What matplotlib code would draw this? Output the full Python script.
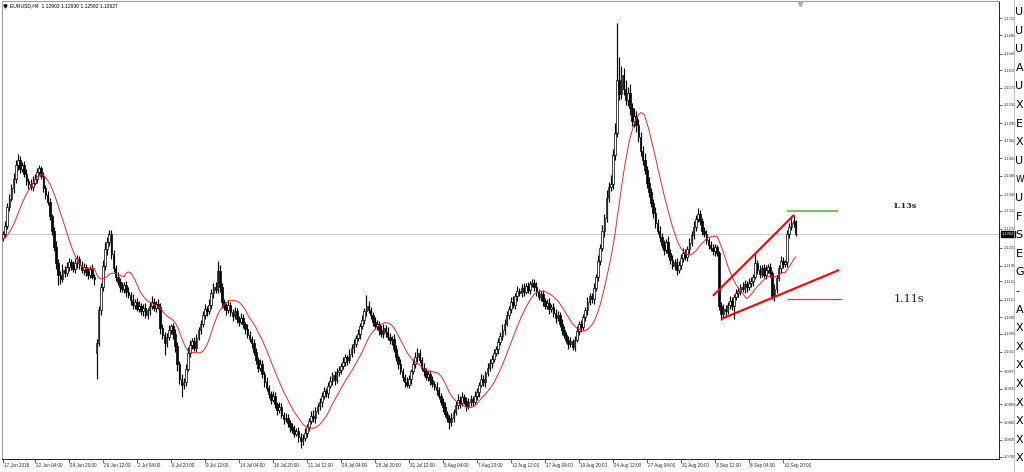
import numpy as np
import pandas as pd
import matplotlib
matplotlib.use("Agg")
import matplotlib.pyplot as plt
from matplotlib.lines import Line2D

W, H, DPI = 1024, 472, 100

title_text = "EURUSD,H4  1.12902 1.12930 1.12592 1.12627"

# H4 closes in pips above 1.0000 (1262 -> 1.1262), 17 Jun 2015 16:00 onwards
closes = [
    1262, 1280, 1320, 1338, 1360, 1380, 1410, 1420, 1400, 1410,
    1390, 1375, 1368, 1362, 1372, 1380, 1395, 1402, 1385, 1360,
    1345, 1330, 1300, 1270, 1235, 1200, 1175, 1166, 1185, 1180,
    1192, 1204, 1196, 1188, 1200, 1210, 1196, 1186, 1192, 1182,
    1176, 1188, 1172, 1166, 1030, 1100, 1150, 1195, 1230, 1246,
    1262, 1220, 1190, 1172, 1160, 1150, 1146, 1154, 1140, 1132,
    1122, 1112, 1118, 1104, 1110, 1098, 1106, 1090, 1100, 1110,
    1118, 1106, 1114, 1108, 1062, 1048, 1030, 1044, 1058, 1066,
    1050, 1024, 986, 954, 942, 948, 976, 1010, 1026, 1034,
    1020, 1042, 1058, 1070, 1090, 1104, 1098, 1112, 1136, 1150,
    1144, 1184, 1150, 1118, 1108, 1100, 1112, 1096, 1088, 1098,
    1082, 1076, 1084, 1070, 1060, 1048, 1040, 1030, 1012, 994,
    978, 986, 964, 948, 934, 922, 910, 918, 900, 888,
    894, 878, 868, 872, 860, 852, 846, 838, 844, 830,
    822, 828, 840, 852, 864, 876, 870, 886, 896, 904,
    918, 928, 924, 940, 950, 962, 952, 968, 974, 982,
    990, 1000, 994, 1008, 1020, 1028, 1042, 1050, 1066, 1080,
    1098, 1110, 1100, 1090, 1076, 1066, 1072, 1058, 1050, 1062,
    1054, 1044, 1036, 1040, 1018, 1000, 986, 970, 958, 948,
    942, 954, 970, 986, 1000, 1010, 994, 978, 970, 958,
    964, 952, 944, 938, 930, 918, 906, 894, 880, 870,
    862, 872, 884, 898, 910, 902, 916, 908, 896, 904,
    912, 906, 918, 926, 942, 954, 948, 966, 978, 988,
    996, 1010, 1018, 1032, 1046, 1058, 1072, 1090, 1104, 1118,
    1112, 1130, 1142, 1136, 1148, 1140, 1152, 1144, 1156, 1158,
    1150, 1140, 1128, 1134, 1120, 1110, 1116, 1102, 1108, 1094,
    1084, 1090, 1072, 1058, 1048, 1038, 1028, 1034, 1022, 1038,
    1056, 1070, 1064, 1086, 1100, 1118, 1130, 1124, 1148, 1170,
    1206, 1232, 1268, 1296, 1340, 1362, 1370, 1430, 1478, 1590,
    1560, 1600, 1572, 1548, 1562, 1530, 1502, 1514, 1494, 1468,
    1440, 1420, 1398, 1372, 1352, 1328, 1308, 1286, 1270, 1256,
    1240, 1228, 1246, 1222, 1208, 1194, 1204, 1186, 1196, 1212,
    1222, 1214, 1230, 1244, 1260, 1278, 1294, 1306, 1290, 1270,
    1262, 1250, 1240, 1232, 1226, 1234, 1222, 1110, 1092, 1104,
    1098, 1112, 1120, 1110, 1128, 1136, 1142, 1150, 1146, 1156,
    1150, 1158, 1162, 1172, 1200, 1186, 1178, 1190, 1176, 1186,
    1192, 1180, 1130, 1146, 1168, 1190, 1206, 1198, 1202, 1262,
    1278, 1286, 1290, 1263,
]

upper_wicks = [
    6, 10, 8, 10, 8, 12, 10, 12, 8, 6,
    8, 10, 6, 12, 14, 10, 8, 8, 6, 10,
    6, 8, 10, 6, 8, 12, 10, 8, 14, 10,
    10, 8, 6, 10, 12, 8, 6, 10, 8, 6,
    8, 6, 10, 6, 10, 10, 8, 12, 16, 10,
    10, 10, 8, 6, 10, 8, 10, 6, 8, 10,
    8, 12, 6, 8, 10, 6, 8, 10, 6, 8,
    12, 8, 6, 10, 8, 10, 6, 8, 10, 6,
    8, 10, 8, 6, 10, 8, 10, 12, 10, 8,
    10, 8, 6, 10, 8, 10, 6, 12, 10, 8,
    10, 21, 12, 8, 6, 8, 10, 6, 8, 10,
    8, 6, 10, 8, 6, 10, 8, 6, 10, 8,
    6, 10, 8, 6, 10, 8, 6, 10, 8, 6,
    10, 8, 6, 10, 8, 6, 8, 10, 6, 8,
    10, 8, 10, 6, 8, 10, 12, 8, 6, 10,
    8, 10, 6, 8, 10, 6, 8, 10, 8, 6,
    10, 8, 6, 10, 8, 12, 6, 10, 8, 10,
    8, 22, 10, 8, 6, 10, 8, 6, 10, 8,
    6, 10, 8, 6, 10, 8, 6, 10, 8, 6,
    10, 8, 6, 10, 12, 10, 8, 6, 10, 8,
    6, 10, 8, 6, 10, 8, 6, 8, 10, 6,
    8, 10, 6, 10, 12, 8, 10, 6, 8, 10,
    8, 6, 10, 8, 6, 10, 8, 6, 10, 8,
    10, 8, 6, 10, 8, 12, 10, 8, 6, 10,
    12, 8, 10, 6, 8, 10, 6, 8, 6, 8,
    8, 10, 6, 8, 10, 6, 8, 10, 6, 8,
    10, 8, 6, 10, 8, 6, 8, 10, 6, 8,
    10, 8, 10, 6, 8, 10, 8, 6, 10, 8,
    12, 10, 14, 10, 16, 12, 18, 14, 20, 122,
    50, 20, 16, 18, 14, 20, 12, 16, 10, 14,
    12, 10, 14, 10, 12, 8, 10, 12, 8, 10,
    8, 10, 6, 12, 8, 10, 6, 8, 10, 8,
    10, 8, 6, 10, 8, 12, 10, 12, 8, 6,
    8, 10, 6, 8, 10, 8, 6, 4, 8, 10,
    8, 6, 10, 8, 6, 10, 8, 6, 10, 8,
    6, 10, 8, 6, 22, 8, 10, 6, 8, 10,
    6, 8, 4, 10, 8, 6, 10, 8, 6, 10,
    8, 14, 14, 3,
]

lower_wicks = [
    8, 6, 6, 8, 6, 10, 8, 12, 8, 6,
    6, 8, 10, 6, 8, 6, 8, 10, 6, 8,
    8, 6, 8, 10, 8, 12, 20, 10, 6, 8,
    6, 8, 10, 6, 8, 10, 8, 6, 10, 8,
    10, 8, 6, 12, 55, 5, 10, 8, 10, 12,
    8, 10, 8, 10, 6, 10, 6, 8, 12, 6,
    10, 8, 10, 6, 8, 8, 10, 6, 8, 10,
    6, 8, 10, 6, 12, 8, 25, 8, 6, 8,
    10, 12, 14, 10, 27, 10, 8, 6, 10, 8,
    6, 8, 6, 8, 6, 8, 10, 6, 8, 10,
    8, 6, 10, 12, 8, 10, 6, 8, 10, 6,
    8, 10, 6, 8, 10, 6, 8, 10, 6, 8,
    10, 6, 8, 10, 6, 8, 10, 6, 8, 10,
    6, 8, 10, 6, 8, 10, 6, 8, 6, 10,
    14, 8, 6, 10, 8, 6, 8, 10, 6, 8,
    10, 6, 8, 10, 6, 8, 10, 6, 8, 10,
    6, 8, 10, 6, 8, 10, 6, 8, 10, 6,
    8, 10, 6, 8, 10, 6, 8, 10, 6, 8,
    10, 6, 8, 10, 6, 8, 10, 6, 8, 10,
    6, 8, 10, 6, 8, 10, 6, 8, 10, 6,
    8, 10, 6, 8, 10, 6, 8, 10, 6, 8,
    14, 8, 10, 6, 8, 10, 6, 8, 10, 6,
    8, 10, 6, 8, 10, 6, 8, 10, 6, 8,
    10, 6, 8, 10, 6, 8, 10, 6, 8, 10,
    6, 8, 10, 6, 8, 10, 6, 8, 10, 6,
    8, 10, 6, 8, 10, 6, 8, 10, 6, 8,
    10, 6, 8, 10, 6, 8, 10, 6, 6, 8,
    6, 8, 10, 6, 8, 10, 6, 8, 10, 6,
    8, 10, 6, 12, 8, 10, 8, 12, 10, 8,
    12, 10, 14, 10, 12, 14, 10, 12, 14, 10,
    12, 10, 8, 12, 10, 8, 12, 10, 8, 10,
    8, 10, 6, 8, 10, 6, 8, 10, 6, 8,
    10, 6, 8, 10, 6, 8, 10, 6, 8, 10,
    6, 8, 10, 6, 8, 10, 6, 10, 12, 8,
    10, 6, 8, 10, 28, 6, 8, 10, 6, 8,
    10, 6, 8, 10, 6, 8, 10, 6, 8, 10,
    6, 8, 6, 10, 8, 6, 10, 8, 6, 10,
    8, 6, 8, 4,
]

first_open = 1255
gap_opens = {44: 1010}
# closes of the bars before the visible window (feed the moving average)
pre_closes = [1238, 1246, 1252, 1244, 1250, 1258, 1262, 1248, 1240, 1252, 1256, 1246, 1254, 1260]
ma_period = 14

price_ticks = [1.1722, 1.1686, 1.1646, 1.1611, 1.1574, 1.1538, 1.1498, 1.1462, 1.1424,
               1.1386, 1.1346, 1.1312, 1.1274, 1.1233, 1.1195, 1.1162, 1.1123, 1.1085,
               1.1050, 1.1012, 1.0971, 1.0933, 1.0900, 1.0862, 1.0825, 1.0788]
time_tick_bars = [0, 15, 31, 47, 63, 79, 95, 111, 127, 143, 159, 175, 191, 207, 223,
                  239, 255, 271, 287, 303, 319, 335, 351, 367]
time_tick_labels = ["17 Jun 2015", "22 Jun 04:00", "24 Jun 20:00", "29 Jun 12:00",
                    "2 Jul 04:00", "6 Jul 20:00", "9 Jul 12:00", "14 Jul 04:00",
                    "16 Jul 20:00", "21 Jul 12:00", "24 Jul 04:00", "28 Jul 20:00",
                    "31 Jul 12:00", "5 Aug 04:00", "7 Aug 20:00", "12 Aug 12:00",
                    "17 Aug 04:00", "19 Aug 20:00", "24 Aug 12:00", "27 Aug 04:00",
                    "31 Aug 20:00", "3 Sep 12:00", "8 Sep 04:00", "10 Sep 20:00"]
current_price = 1.12627
current_label = "1.1262"

# user drawn objects (bar index, price)
upper_trend = [(334.1, 1.1131), (372.2, 1.1303)]
lower_trend = [(338.2, 1.1082), (393.5, 1.1186)]
support_line = [(369.1, 1.1124), (394.7, 1.1124)]
resist_line = [(369.1, 1.1311), (393.1, 1.1311)]
notes = [("1.13s", 424.5, 1.1322), ("1.11s", 426.4, 1.1125)]

side_letters = ["U", "U", "U", "A", "U", "X", "E", "X", "U", "W", "U", "F", "S",
                "E", "G", "-", "A", "X", "X", "X", "X", "X", "X", "X", "X"]

# ---------------------------------------------------------------------------
to_price = lambda v: 1.0 + np.asarray(v, dtype=float) / 10000.0
c = to_price(closes)
opens_p = [first_open] + closes[:-1]
for k, v in gap_opens.items():
    opens_p[k] = v
o = to_price(opens_p)
hi = np.maximum(o, c) + to_price(upper_wicks) - 1.0
lo = np.minimum(o, c) - (to_price(lower_wicks) - 1.0)
n = len(c)
xs = np.arange(n)

all_closes = pd.Series(np.concatenate([to_price(pre_closes), c]))
ma = all_closes.rolling(ma_period).mean().to_numpy()[len(pre_closes):]

fig = plt.figure(figsize=(W / DPI, H / DPI), dpi=DPI)
fig.patch.set_facecolor("white")

ax_l, ax_r = 2 / W, 999 / W
ax_top, ax_bot = 1 / H, 458.5 / H
ax = fig.add_axes([ax_l, 1 - ax_bot, ax_r - ax_l, ax_bot - ax_top])
ax.set_facecolor("white")

ax.set_xlim(-0.47, 468.7)
ax.set_ylim(1.07848, 1.17584)

# current price line
ax.axhline(current_price, color="#c0c0c0", lw=0.6, zorder=1)

# candles
ax.vlines(xs, lo, hi, color="black", lw=0.85, zorder=3)
bull = c >= o
body_h = np.maximum(np.abs(c - o), 0.00004)
ax.bar(xs[bull], body_h[bull], bottom=np.minimum(o, c)[bull], width=0.75,
       facecolor="white", edgecolor="black", lw=0.5, zorder=4)
ax.bar(xs[~bull], body_h[~bull], bottom=np.minimum(o, c)[~bull], width=0.75,
       facecolor="black", edgecolor="black", lw=0.5, zorder=4)

# moving average
ax.plot(xs, ma, color="#ff2020", lw=0.7, zorder=5)

# drawn objects
for seg, col, lw in [(upper_trend, "#ff0000", 1.5), (lower_trend, "#ff0000", 1.5),
                     (support_line, "#ff3030", 0.9), (resist_line, "#70ad47", 1.2)]:
    (x0, y0), (x1, y1) = seg
    ax.plot([x0, x1], [y0, y1], color=col, lw=lw, solid_capstyle="butt", zorder=6)

ax.text(notes[0][1], notes[0][2], notes[0][0], family="DejaVu Serif", weight="bold",
        fontsize=5.8, ha="center", va="center", color="#222222", zorder=7)
ax.text(notes[1][1], notes[1][2], notes[1][0], family="DejaVu Serif",
        fontsize=8, ha="center", va="center", color="#222222", zorder=7)

# axes styling
for side in ["left", "top"]:
    ax.spines[side].set_color("#a0a0a0")
    ax.spines[side].set_linewidth(0.8)
for side in ["right", "bottom"]:
    ax.spines[side].set_color("#202020")
    ax.spines[side].set_linewidth(0.7)

ax.yaxis.tick_right()
ax.set_yticks(price_ticks)
ax.set_yticklabels([f"{p:.4f}" for p in price_ticks], family="Liberation Sans",
                   fontsize=3.0, color="#303030")
ax.tick_params(axis="y", direction="out", length=2.5, width=0.5, pad=1.2, colors="#303030")

ax.set_xticks(time_tick_bars)
ax.set_xticklabels([])
ax.tick_params(axis="x", direction="out", length=3, width=0.5, colors="#303030")
xt = ax.get_xaxis_transform()
for b, lab in zip(time_tick_bars, time_tick_labels):
    ax.text(b + 0.6, -0.0145, lab, transform=xt, ha="left", va="center",
            family="Liberation Sans", fontsize=3.3, color="#303030", clip_on=False)

# current price box on the price scale
ax.text(1.003, current_price, current_label, transform=ax.get_yaxis_transform(),
        ha="left", va="center", family="Liberation Sans", fontsize=3.0, color="white",
        bbox=dict(boxstyle="square,pad=0.15", fc="black", ec="black"), clip_on=False,
        zorder=10)

# title
fig.text(10 / W, 1 - 6 / H, title_text, ha="left", va="center",
         family="Liberation Sans", fontsize=3.6, color="black")
fig.add_artist(Line2D([5 / W], [1 - 6 / H], marker="v", markersize=2.2, color="black",
                      transform=fig.transFigure))
# chart shift marker
fig.add_artist(Line2D([800 / W], [1 - 3.5 / H], marker="v", markersize=3.2,
                      color="#b0b0b0", transform=fig.transFigure))

# partially visible side panel
fig.add_artist(Line2D([1014 / W, 1014 / W], [0, 1], color="#b8b8b8", lw=0.6,
                      transform=fig.transFigure))
for k, letter in enumerate(side_letters):
    fs = 6.2 if letter == "W" else 8
    fig.text(1015.5 / W, 1 - (12 + 18.6 * k) / H, letter, ha="left", va="center",
             family="DejaVu Sans", fontsize=fs, color="black")

fig.savefig("out.png", dpi=DPI, facecolor="white")
